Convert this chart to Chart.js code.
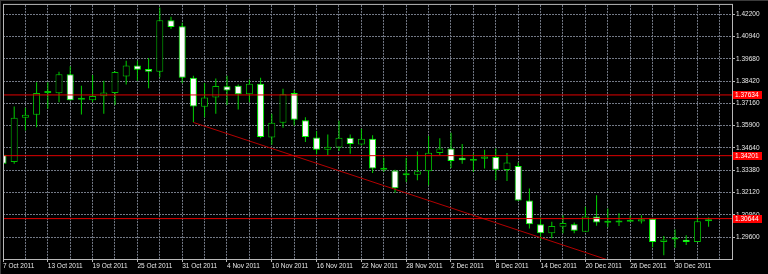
<!DOCTYPE html>
<html>
<head>
<meta charset="utf-8">
<script src="https://cdn.jsdelivr.net/npm/chart.js@4.4.1/dist/chart.umd.min.js"></script>
<style>
  html, body { margin: 0; padding: 0; background: #000; }
  canvas { display: block; }
</style>
</head>
<body>
<canvas id="chart" width="768" height="274"></canvas>
<script>
// daily bars, EURUSD-style candles
const dates = [
  '7 Oct 2011', '10 Oct 2011', '11 Oct 2011', '12 Oct 2011', '13 Oct 2011', '14 Oct 2011',
  '17 Oct 2011', '18 Oct 2011', '19 Oct 2011', '20 Oct 2011', '21 Oct 2011',
  '24 Oct 2011', '25 Oct 2011', '26 Oct 2011', '27 Oct 2011', '28 Oct 2011',
  '31 Oct 2011', '1 Nov 2011', '2 Nov 2011', '3 Nov 2011', '4 Nov 2011',
  '7 Nov 2011', '8 Nov 2011', '9 Nov 2011', '10 Nov 2011', '11 Nov 2011',
  '14 Nov 2011', '15 Nov 2011', '16 Nov 2011', '17 Nov 2011', '18 Nov 2011',
  '21 Nov 2011', '22 Nov 2011', '23 Nov 2011', '24 Nov 2011', '25 Nov 2011',
  '28 Nov 2011', '29 Nov 2011', '30 Nov 2011', '1 Dec 2011', '2 Dec 2011',
  '5 Dec 2011', '6 Dec 2011', '7 Dec 2011', '8 Dec 2011', '9 Dec 2011',
  '12 Dec 2011', '13 Dec 2011', '14 Dec 2011', '15 Dec 2011', '16 Dec 2011',
  '19 Dec 2011', '20 Dec 2011', '21 Dec 2011', '22 Dec 2011', '23 Dec 2011',
  '26 Dec 2011', '27 Dec 2011', '28 Dec 2011', '29 Dec 2011', '30 Dec 2011',
  '2 Jan 2012', '3 Jan 2012', '4 Jan 2012'
];

const open = [
  1.3426, 1.3384, 1.3634, 1.3651, 1.3775, 1.3773, 1.3880, 1.3736, 1.3733, 1.3756,
  1.3775, 1.3867, 1.3930, 1.3910, 1.3895, 1.4186, 1.4152, 1.3860, 1.3696, 1.3749,
  1.3812, 1.3816, 1.3767, 1.3827, 1.3523, 1.3606, 1.3775, 1.3621, 1.3523, 1.3454,
  1.3467, 1.3522, 1.3484, 1.3516, 1.3341, 1.3337, 1.3309, 1.3313, 1.3332, 1.3435,
  1.3461, 1.3409, 1.3392, 1.3403, 1.3412, 1.3339, 1.3362, 1.3167, 1.3032, 1.2981,
  1.3018, 1.3032, 1.2990, 1.3077, 1.3041, 1.3043, 1.3047, 1.3048, 1.3063, 1.2932,
  1.2947, 1.2945, 1.2932, 1.3050
];
const high = [
  1.3433, 1.3698, 1.3691, 1.3835, 1.3835, 1.3895, 1.3925, 1.3816, 1.3876, 1.3844,
  1.3897, 1.3957, 1.3957, 1.3972, 1.4257, 1.4205, 1.4171, 1.3872, 1.3831, 1.3857,
  1.3872, 1.3822, 1.3850, 1.3860, 1.3657, 1.3798, 1.3792, 1.3638, 1.3559, 1.3540,
  1.3617, 1.3540, 1.3572, 1.3535, 1.3409, 1.3341, 1.3407, 1.3444, 1.3531, 1.3519,
  1.3550, 1.3486, 1.3431, 1.3454, 1.3460, 1.3435, 1.3381, 1.3234, 1.3071, 1.3046,
  1.3084, 1.3043, 1.3131, 1.3197, 1.3122, 1.3094, 1.3080, 1.3084, 1.3063, 1.2966,
  1.3003, 1.2970, 1.3074, 1.3071
];
const low = [
  1.3371, 1.3375, 1.3563, 1.3581, 1.3685, 1.3722, 1.3732, 1.3653, 1.3722, 1.3657,
  1.3707, 1.3822, 1.3844, 1.3801, 1.3863, 1.4136, 1.3829, 1.3609, 1.3638, 1.3657,
  1.3707, 1.3681, 1.3722, 1.3519, 1.3482, 1.3578, 1.3591, 1.3497, 1.3428, 1.3424,
  1.3446, 1.3431, 1.3477, 1.3322, 1.3328, 1.3210, 1.3271, 1.3281, 1.3253, 1.3422,
  1.3350, 1.3375, 1.3328, 1.3347, 1.3281, 1.3277, 1.3165, 1.3009, 1.2943, 1.2953,
  1.2981, 1.2981, 1.2990, 1.3024, 1.3015, 1.3022, 1.3046, 1.3037, 1.2902, 1.2857,
  1.2900, 1.2915, 1.2932, 1.3018
];
const close = [
  1.3375, 1.3634, 1.3651, 1.3775, 1.3776, 1.3880, 1.3733, 1.3737, 1.3758, 1.3777,
  1.3893, 1.3930, 1.3906, 1.3895, 1.4186, 1.4148, 1.3860, 1.3698, 1.3749, 1.3814,
  1.3788, 1.3767, 1.3827, 1.3525, 1.3606, 1.3767, 1.3623, 1.3525, 1.3454, 1.3471,
  1.3522, 1.3486, 1.3516, 1.3347, 1.3343, 1.3236, 1.3310, 1.3332, 1.3437, 1.3461,
  1.3390, 1.3394, 1.3403, 1.3415, 1.3341, 1.3381, 1.3167, 1.3032, 1.2981, 1.3022,
  1.3039, 1.2996, 1.3077, 1.3043, 1.3052, 1.3048, 1.3052, 1.3061, 1.2932, 1.2947,
  1.2958, 1.2932, 1.3050, 1.3060
];

// horizontal levels (with red price tags) and the falling trend line
const levels = [1.37634, 1.34201, 1.30644];
const trendX = [17, 60];
const trendY = [1.3608, 1.2705];

const yTicks = [1.29600, 1.30860, 1.32120, 1.33380, 1.34640, 1.35900,
                1.37160, 1.38420, 1.39680, 1.40940, 1.42200];
const yMin = 1.28361, yMax = 1.42724;
const xMin = 0, xMax = 65.09;

const FONT = {family: 'Liberation Sans', size: 6.5};
const GRID = '#737986';

const isBull = close.map((c, i) => c >= open[i]);

const frame = {
    id: 'frame',
    afterDraw(chart) {
        const {ctx, chartArea: a, width} = chart;
        ctx.save();
        ctx.lineWidth = 1;
        // window edge
        ctx.strokeStyle = '#3c3c3c';
        ctx.beginPath();
        ctx.moveTo(0, 0.5);
        ctx.lineTo(width, 0.5);
        ctx.moveTo(0.5, 0);
        ctx.lineTo(0.5, chart.height);
        ctx.stroke();
        // plot frame
        ctx.strokeStyle = '#b8b8b8';
        ctx.strokeRect(a.left + 0.5, a.top - 0.5, a.right - a.left, a.bottom - a.top + 1);
        ctx.restore();
    }
};

const levelTags = {
    id: 'levelTags',
    afterDraw(chart) {
        const {ctx} = chart;
        const y = chart.scales.y;
        ctx.save();
        ctx.font = '6.5px "Liberation Sans"';
        ctx.textBaseline = 'middle';
        levels.forEach(v => {
            const py = Math.round(y.getPixelForValue(v));
            ctx.fillStyle = '#ff0000';
            ctx.fillRect(y.left + 1, py - 4, 29, 8);
            ctx.fillStyle = '#ffffff';
            ctx.fillText(v.toFixed(5), y.left + 3, py + 0.5);
        });
        ctx.restore();
    }
};

const levelSets = levels.map(v => ({
    type: 'line',
    data: [{x: xMin - 1, y: v}, {x: xMax + 1, y: v}],
    borderColor: '#e00000',
    borderWidth: 1,
    pointRadius: 0,
    order: 0
}));

new Chart(document.getElementById('chart'), {
    type: 'bar',
    data: {
        datasets: [
            ...levelSets,
            {
                type: 'line',
                data: trendX.map((x, i) => ({x, y: trendY[i]})),
                borderColor: '#b40000',
                borderWidth: 1,
                pointRadius: 0,
                order: 0
            },
            {
                // candle bodies
                data: dates.map((d, i) => ({x: i, y: [open[i], close[i]]})),
                backgroundColor: isBull.map(b => b ? '#000000' : '#ffffff'),
                borderColor: isBull.map(b => b ? '#00c000' : '#00ff00'),
                borderWidth: 1,
                borderSkipped: false,
                barThickness: 7,
                minBarLength: 2,
                inflateAmount: 0,
                grouped: false,
                order: 1
            },
            {
                // wicks
                data: dates.map((d, i) => ({x: i, y: [low[i], high[i]]})),
                backgroundColor: '#00d000',
                borderWidth: 0,
                barThickness: 1,
                inflateAmount: 0,
                grouped: false,
                order: 2
            }
        ]
    },
    options: {
        responsive: false,
        animation: false,
        devicePixelRatio: 1,
        events: [],
        layout: {padding: {left: 3, top: 4, right: 0, bottom: 0}},
        plugins: {
            legend: {display: false},
            tooltip: {enabled: false}
        },
        scales: {
            x: {
                type: 'linear',
                offset: false,
                min: xMin,
                max: xMax,
                afterFit: s => { s.height = 15; },
                afterBuildTicks: s => {
                    const t = [];
                    for (let i = 0; i <= 64; i += 2) t.push({value: i});
                    s.ticks = t;
                },
                ticks: {
                    autoSkip: false,
                    maxRotation: 0,
                    minRotation: 0,
                    align: 'start',
                    padding: 0,
                    color: '#e8e8e8',
                    font: FONT,
                    callback: v => (v % 4 === 0 && dates[v]) ? dates[v] : ''
                },
                grid: {
                    offset: false,
                    color: GRID,
                    tickLength: 3,
                    tickColor: c => (c.tick && c.tick.value % 4 === 0 && dates[c.tick.value]) ? '#b8b8b8' : 'rgba(0,0,0,0)'
                },
                border: {display: false, dash: [2, 1]}
            },
            y: {
                type: 'linear',
                position: 'right',
                min: yMin,
                max: yMax,
                afterFit: s => { s.width = 36; },
                afterBuildTicks: s => { s.ticks = yTicks.map(v => ({value: v})); },
                ticks: {
                    padding: 1,
                    color: '#e8e8e8',
                    font: FONT,
                    callback: v => v.toFixed(5)
                },
                grid: {
                    color: GRID,
                    tickLength: 3,
                    tickColor: '#b8b8b8'
                },
                border: {display: false, dash: [2, 1]}
            }
        }
    },
    plugins: [frame, levelTags]
});
</script>
</body>
</html>
